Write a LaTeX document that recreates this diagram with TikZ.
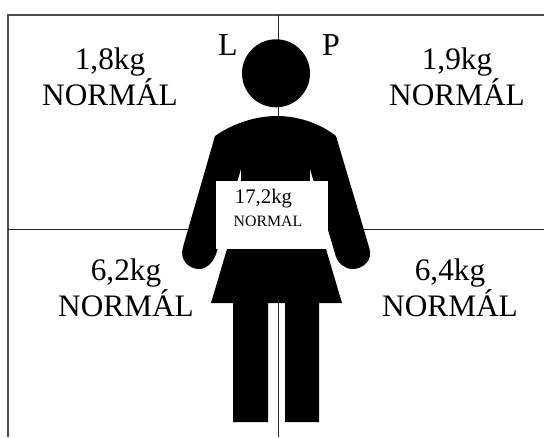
\documentclass[tikz,border=0pt]{standalone}
\usepackage{fontspec}
\setmainfont{Liberation Serif}
\tikzset{
    frameline/.style={black!70, line width=0.7pt},
    crossline/.style={black!85, line width=0.45pt},
    bigtext/.style={align=center, font=\fontsize{17.8}{20.5}\selectfont},
    sidetext/.style={font=\fontsize{18.2}{20}\selectfont},
}
\begin{document}
\begin{tikzpicture}[x=0.02cm,y=-0.02cm]
    \useasboundingbox (0,0) rectangle (544,437);
    \draw[frameline] (8,437) -- (8,15) -- (544,15);
    \draw[crossline] (8,229) -- (544,229);
    \draw[crossline] (278,15) -- (278,437);
    % figure
    \fill (276,73.3) circle (34);
    \fill (215,136) .. controls (235,122) and (258,116) .. (277,116)
        .. controls (296,116) and (318,122) .. (336,136) -- (369,247)
        .. controls (374,262) and (361,269) .. (353,269)
        .. controls (345,269) and (339,264) .. (336,257) -- (310,169) -- (309,250)
        -- (242,250) -- (241,169) -- (217,251)
        .. controls (214,262) and (207,269) .. (199,269)
        .. controls (189,269) and (179,260) .. (183,247) -- cycle;
    \fill[white] (216,181) rectangle (328,249);
    \fill (227,249) -- (326,249) -- (342,303) -- (319,303) -- (319,422) -- (285,422)
        -- (285,303) -- (268,303) -- (268,422) -- (233,422) -- (233,303) -- (211,303) -- cycle;
    % labels
    \node[sidetext] (left) at (228,45) {L};
    \node[sidetext] (right) at (331,45) {P};
    \node[bigtext] (upleft) at (110,77) {1,8kg\\NORMÁL};
    \node[bigtext] (upright) at (457,77) {1,9kg\\NORMÁL};
    \node[bigtext] (lowleft) at (126,288) {6,2kg\\NORMÁL};
    \node[bigtext] (lowright) at (450,288) {6,4kg\\NORMÁL};
    \node[font=\fontsize{11.8}{12}\selectfont] (total) at (263.5,199) {17,2kg};
    \node[font=\fontsize{9}{10}\selectfont] (totalstate) at (268,221) {NORMAL};
\end{tikzpicture}
\end{document}
